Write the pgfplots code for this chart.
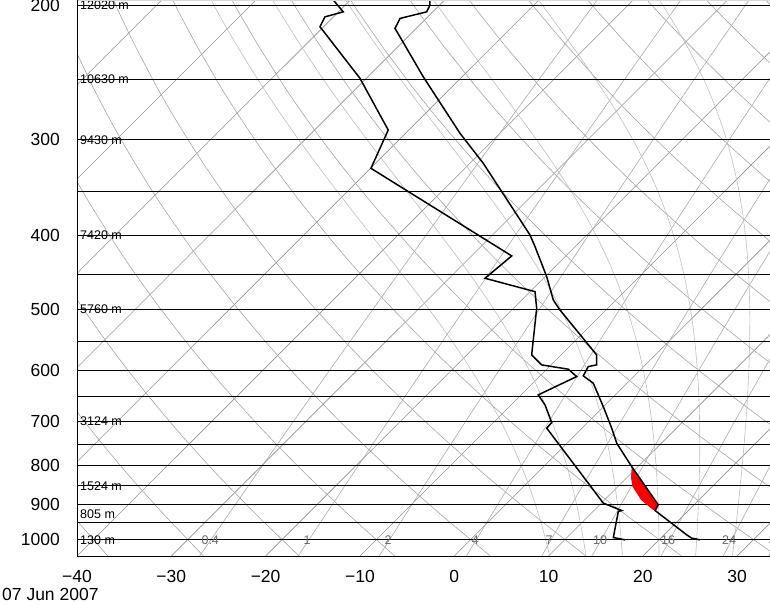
\documentclass[border=0pt]{standalone}
\usepackage{pgfplots}
\pgfplotsset{compat=1.18}
\usepackage{pgfplotstable}
\usepackage{fontspec}
\setmainfont{Liberation Sans}
\definecolor{isoc}{RGB}{145,145,145}
\definecolor{dryc}{RGB}{165,165,165}
\definecolor{mixc}{RGB}{170,170,170}
\definecolor{moic}{RGB}{190,190,190}
\definecolor{labc}{RGB}{105,105,105}

% sounding: temperature
\pgfplotstableread{
p T
1000 24.35
994.9 23.28
985.1 22.41
915.6 16.47
900.0 16.21
802.1 9.33
747.6 5.26
714.6 3.14
669.7 -0.04
624.1 -3.59
610.5 -5.43
593.7 -5.88
590.7 -5.17
573.2 -6.23
500.6 -14.90
485.8 -16.66
452.9 -19.83
413.8 -24.25
399.5 -26.03
322.0 -38.58
294.2 -44.23
248.2 -54.12
214.5 -62.26
208.2 -62.78
204.1 -60.66
200.0 -61.02
197.0 -61.56
}\tempdata

% sounding: dew point
\pgfplotstableread{
p T
1000 16.39
993.1 14.91
918.4 12.68
915.6 12.93
895.5 10.20
860.4 7.73
714.6 -3.75
702.6 -3.82
666.2 -6.41
646.5 -8.18
611.8 -6.05
598.4 -7.72
590.7 -11.00
573.2 -13.12
498.1 -17.54
473.8 -19.48
455.1 -26.20
425.5 -25.74
326.9 -49.96
291.3 -52.19
249.3 -60.68
213.5 -70.38
207.2 -70.91
204.1 -69.50
197.0 -71.81
}\dewdata

% shaded area
\pgfplotstableread{
p T
802.1 9.33
900.0 16.21
913.7 16.39
913.7 16.18
886.6 13.85
851.9 11.54
830.6 10.49
802.1 9.33
}\reddata

% background: saturated adiabats (chart furniture)
\newcommand\mslope[2]{%
  \pgfmathsetmacro\mEs{6.112*exp(17.67*(#1-273.15)/(#1-29.65))}%
  \pgfmathsetmacro\mWs{0.622*\mEs/(#2-\mEs)}%
  \pgfmathsetmacro\mAw{2652*\mWs}%
  \pgfmathsetmacro\mF{(0.2857*#1+\mAw)/(1+(\mAw/#1)*(5419.6/#1))}%
}
\newcommand\mstep[1]{%
  \mslope{\mT}{\mP}%
  \pgfmathsetmacro\mTm{\mT+0.5*#1*\mF}%
  \pgfmathsetmacro\mPm{\mP*exp(0.5*#1)}%
  \mslope{\mTm}{\mPm}%
  \pgfmathsetmacro\mT{\mT+#1*\mF}%
  \pgfmathsetmacro\mP{\mP*exp(#1)}%
}
\newcommand\moistline[1]{%
  \pgfmathsetmacro\mT{#1+273.15}%
  \def\mP{1000}%
  \mstep{0.024395}\mstep{0.024395}%
  \pgfmathsetmacro\mX{\mT-273.15+35.25*ln(1050/\mP)}%
  \xdef\mCoords{(\mX,\mP)}%
  \pgfplotsforeachungrouped \mi in {1,...,42}{%
    \mstep{-0.04}%
    \pgfmathsetmacro\mX{\mT-273.15+35.25*ln(1050/\mP)}%
    \xdef\mCoords{\mCoords (\mX,\mP)}%
  }%
  \edef\mTemp{\noexpand\addplot[moic, line width=0.6pt] coordinates {\mCoords};}%
  \mTemp
}

\begin{document}
\begin{tikzpicture}
\begin{axis}[
  scale only axis, width=693pt, height=556pt,
  xmin=-40, xmax=33.49, ymin=197, ymax=1050,
  ymode=log, y dir=reverse,
  axis line style={draw=none},
  major tick length=0pt,
  xtick={-40,-30,-20,-10,0,10,20,30},
  xticklabels={−40,−30,−20,−10,0,10,20,30},
  ytick={200,300,400,500,600,700,800,900,1000},
  yticklabels={200,300,400,500,600,700,800,900,1000},
  tick label style={font=\fontsize{17.5}{20}\selectfont, inner sep=0pt},
  xticklabel style={anchor=north, yshift=-14pt},
  yticklabel style={anchor=east, xshift=-17pt},
  clip mode=individual,
]
% isotherms
\pgfplotsinvokeforeach{-100,-90,-80,-70,-60,-50,-40,-30,-20,-10,0,10,20,30}{
  \addplot[isoc, line width=0.6pt, domain=5.247:6.9566, samples=2, variable=\t]
    ({#1+35.25*(6.956545-\t)},{exp(\t)});
}
% dry adiabats
\pgfplotsinvokeforeach{-40,-30,-20,-10,0,10,20,30,40,50,60,70,80,90,100,110,120}{
  \addplot[dryc, line width=0.6pt, domain=5.247:6.9566, samples=30, variable=\t, smooth]
    ({(#1+273.15)*exp(0.2857*(\t-6.907755))-273.15+35.25*(6.956545-\t)},{exp(\t)});
}
% mixing ratio lines
\pgfplotsinvokeforeach{0.4,1,2,4,7,10,16,24,32}{
  \addplot[mixc, line width=0.6pt, domain=5.247:6.9566, samples=25, variable=\t, smooth]
    ({243.5*(ln(#1)-ln(622+#1)-ln(6.112)+\t)/(17.67-(ln(#1)-ln(622+#1)-ln(6.112)+\t))+35.25*(6.956545-\t)},{exp(\t)});
}
% saturated adiabats
\moistline{8}
\moistline{12}
\moistline{16}
\moistline{20}
\moistline{24}
\moistline{28}
\moistline{32}
% pressure lines
\pgfplotsinvokeforeach{200,250,300,350,400,450,500,550,600,650,700,750,800,850,900,950,1000}{
  \addplot[black, line width=0.8pt] coordinates {(-40,#1) (33.49,#1)};
}
% height labels
\node[anchor=west, inner sep=0pt, xshift=3pt, font=\fontsize{12.5}{14}\selectfont] at (axis cs:-40,200) {12020 m};
\node[anchor=west, inner sep=0pt, xshift=3pt, font=\fontsize{12.5}{14}\selectfont] at (axis cs:-40,250) {10630 m};
\node[anchor=west, inner sep=0pt, xshift=3pt, font=\fontsize{12.5}{14}\selectfont] at (axis cs:-40,300) {9430 m};
\node[anchor=west, inner sep=0pt, xshift=3pt, font=\fontsize{12.5}{14}\selectfont] at (axis cs:-40,400) {7420 m};
\node[anchor=west, inner sep=0pt, xshift=3pt, font=\fontsize{12.5}{14}\selectfont] at (axis cs:-40,500) {5760 m};
\node[anchor=west, inner sep=0pt, xshift=3pt, font=\fontsize{12.5}{14}\selectfont] at (axis cs:-40,700) {3124 m};
\node[anchor=west, inner sep=0pt, xshift=3pt, font=\fontsize{12.5}{14}\selectfont] at (axis cs:-40,850) {1524 m};
\node[anchor=west, inner sep=0pt, xshift=3pt, font=\fontsize{12.5}{14}\selectfont] at (axis cs:-40,925) {805 m};
\node[anchor=west, inner sep=0pt, xshift=3pt, font=\fontsize{12.5}{14}\selectfont] at (axis cs:-40,1000) {130 m};
% mixing ratio labels
\node[labc, inner sep=0pt, font=\fontsize{12.5}{14}\selectfont] at (axis cs:-25.87,1000) {0.4};
\node[labc, inner sep=0pt, font=\fontsize{12.5}{14}\selectfont] at (axis cs:-15.59,1000) {1};
\node[labc, inner sep=0pt, font=\fontsize{12.5}{14}\selectfont] at (axis cs:-7.0,1000) {2};
\node[labc, inner sep=0pt, font=\fontsize{12.5}{14}\selectfont] at (axis cs:2.23,1000) {4};
\node[labc, inner sep=0pt, font=\fontsize{12.5}{14}\selectfont] at (axis cs:10.07,1000) {7};
\node[labc, inner sep=0pt, font=\fontsize{12.5}{14}\selectfont] at (axis cs:15.48,1000) {10};
\node[labc, inner sep=0pt, font=\fontsize{12.5}{14}\selectfont] at (axis cs:22.69,1000) {16};
\node[labc, inner sep=0pt, font=\fontsize{12.5}{14}\selectfont] at (axis cs:29.16,1000) {24};
\node[labc, inner sep=0pt, font=\fontsize{12.5}{14}\selectfont] at (axis cs:34.1,1000) {32};
% shaded area and sounding
\addplot[fill=red, draw=none] table[x expr={\thisrow{T}+35.25*ln(1050/\thisrow{p})}, y=p] {\reddata};
\addplot[black, line width=1.5pt] table[x expr={\thisrow{T}+35.25*ln(1050/\thisrow{p})}, y=p] {\dewdata};
\addplot[black, line width=1.5pt] table[x expr={\thisrow{T}+35.25*ln(1050/\thisrow{p})}, y=p] {\tempdata};
% frame
\draw[gray!30, line width=1.5pt] (axis cs:-40,197) -- (axis cs:33.49,197);
\draw[black, line width=0.9pt] (axis cs:-40,197) -- (axis cs:-40,1050) -- (axis cs:33.49,1050);
\node[anchor=base west, inner sep=0pt, xshift=-75pt, yshift=-44pt, font=\fontsize{17.5}{20}\selectfont] at (axis cs:-40,1050) {07 Jun 2007};
\coordinate (SW) at (axis cs:-40,1050);
\end{axis}
\pgfresetboundingbox
\path[use as bounding box] ([shift={(-77pt,-48pt)}]SW) rectangle ([shift={(693pt,556pt)}]SW);
\end{tikzpicture}
\end{document}
